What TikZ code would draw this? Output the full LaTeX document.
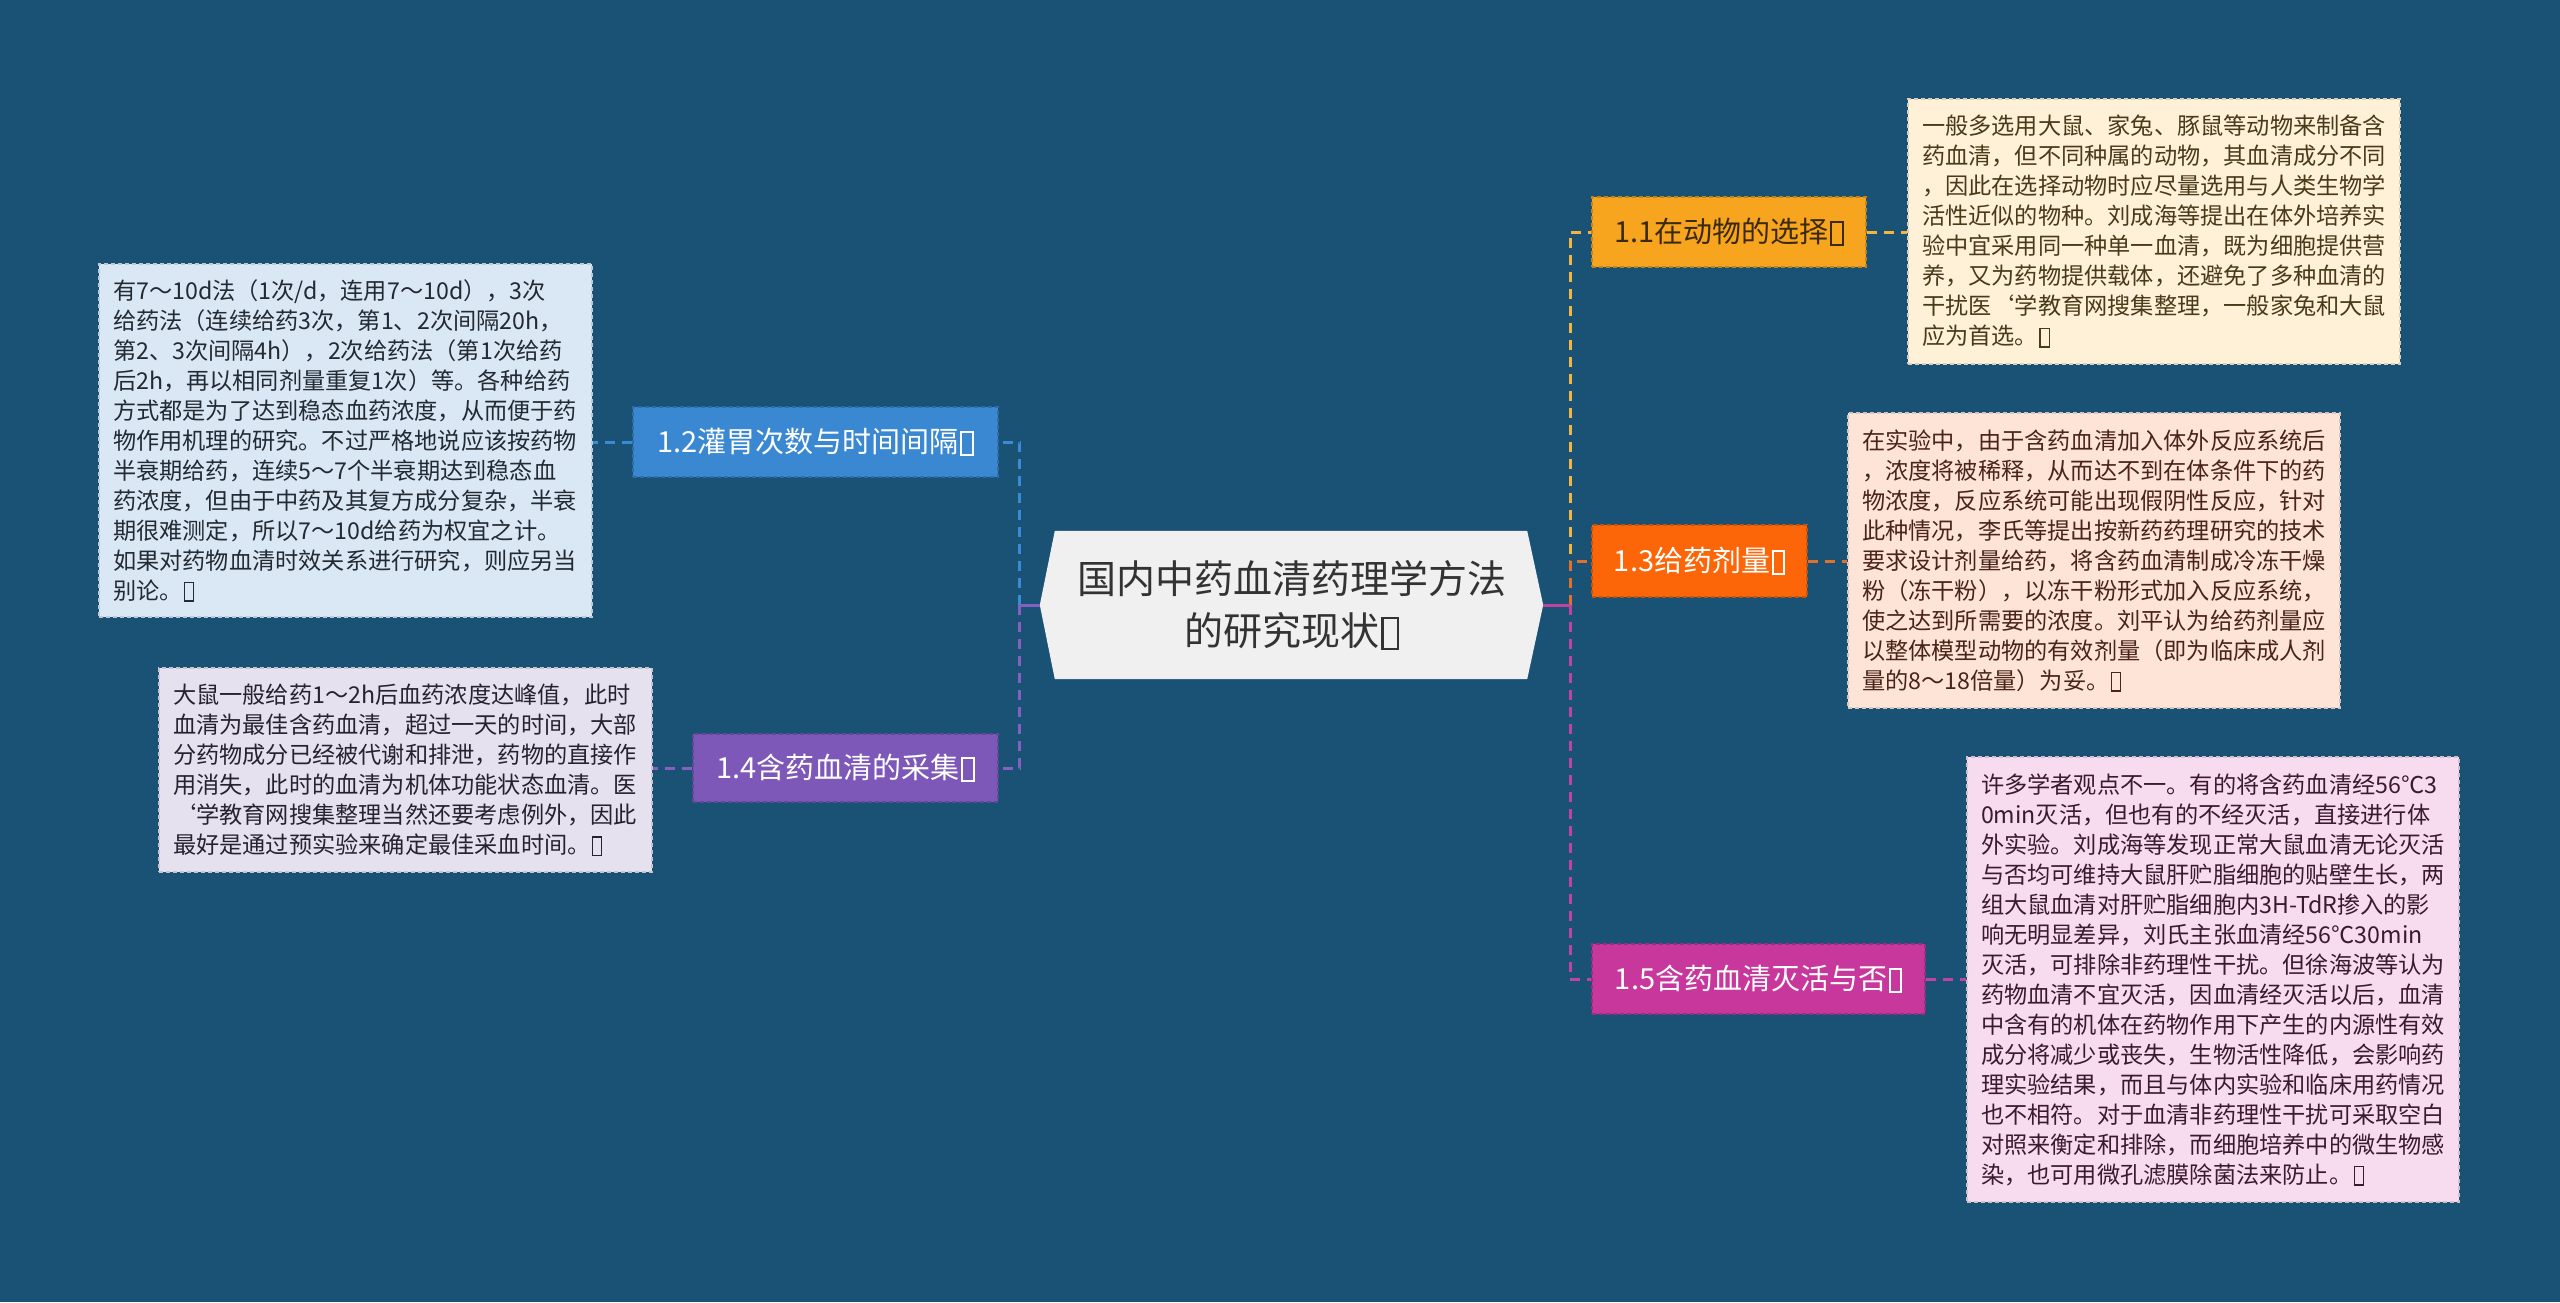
\documentclass[tikz,border=0pt]{standalone}
\usepackage{fontspec}
\setmainfont{Noto Sans CJK SC}
\usetikzlibrary{backgrounds}
\definecolor{bg}{HTML}{1A5276}
\definecolor{rootfill}{HTML}{F0F0F0}
\definecolor{roottext}{HTML}{333333}
\definecolor{f11}{HTML}{F7A41E}
\definecolor{f12}{HTML}{3A88D2}
\definecolor{f13}{HTML}{FC6608}
\definecolor{f14}{HTML}{7E58B8}
\definecolor{f15}{HTML}{C8379C}
\definecolor{e11}{HTML}{F2B640}
\definecolor{e12}{HTML}{3A8AD4}
\definecolor{e13}{HTML}{E2702A}
\definecolor{e14}{HTML}{8660BE}
\definecolor{e15}{HTML}{C043A0}
\definecolor{d11}{HTML}{FEF1D8}
\definecolor{d12}{HTML}{DAE8F5}
\definecolor{d13}{HTML}{FDE4D7}
\definecolor{d14}{HTML}{E6E1EF}
\definecolor{d15}{HTML}{F7DBEE}
\definecolor{t11}{HTML}{3B2A0A}
\definecolor{dt11}{HTML}{4A3A1A}
\definecolor{dt12}{HTML}{222A33}
\definecolor{dt13}{HTML}{4A2418}
\definecolor{dt14}{HTML}{26222E}
\definecolor{dt15}{HTML}{3A1A30}
\newcommand\tofu{\kern0.06em{\setlength{\fboxsep}{0pt}\setlength{\fboxrule}{0.055em}\raisebox{-0.06em}{\fbox{\rule{0pt}{0.74em}\kern0.34em}}}}
\tikzset{
  branch/.style={minimum height=70, inner sep=0, font=\fontsize{29}{34}\selectfont, draw=#1!80!black, dash pattern=on 4 off 3, line width=1.2, fill=#1},
  descbox/.style={align=left, inner xsep=14, inner ysep=0, font=\fontsize{23.2}{30}\selectfont, fill=#1, draw=#1!70!gray, dash pattern=on 4 off 3, line width=1.2},
  conn/.style={line width=3, dash pattern=on 10 off 7, #1},
  stub/.style={line width=3, #1}
}
\begin{document}
\begin{tikzpicture}[x=1pt,y=-1pt]
\useasboundingbox (0,0) rectangle (2560,1302);
% root
\node[minimum width=503, minimum height=148, inner sep=0, align=center, text=roottext, font=\fontsize{39}{52}\selectfont] (root) at (1291.5,605) {国内中药血清药理学方法\\的研究现状\tofu};
\begin{scope}[on background layer]
\fill[bg] (0,0) rectangle (2560,1302);
\fill[rootfill] ([xshift=15]root.north west) -- ([xshift=-16]root.north east) -- (root.east) -- ([xshift=-16]root.south east) -- ([xshift=15]root.south west) -- (root.west) -- cycle;
\end{scope}
% branches
\node[branch=f11, text=t11, minimum width=274] (n11) at (1729,232) {1.1在动物的选择\tofu};
\node[branch=f13, text=white, minimum width=215, minimum height=72] (n13) at (1699.5,561) {1.3给药剂量\tofu};
\node[branch=f15, text=white, minimum width=333] (n15) at (1758.5,979) {1.5含药血清灭活与否\tofu};
\node[branch=f12, text=white, minimum width=365] (n12) at (815.5,442) {1.2灌胃次数与时间间隔\tofu};
\node[branch=f14, text=white, minimum width=305, minimum height=68] (n14) at (845.5,768) {1.4含药血清的采集\tofu};
% descriptions
\node[descbox=d11, text=dt11, text width=464, minimum height=265] (dd11) at (2154,231.5) {一般多选用大鼠、家兔、豚鼠等动物来制备含\\药血清，但不同种属的动物，其血清成分不同\\，因此在选择动物时应尽量选用与人类生物学\\活性近似的物种。刘成海等提出在体外培养实\\验中宜采用同一种单一血清，既为细胞提供营\\养，又为药物提供载体，还避免了多种血清的\\干扰医`学教育网搜集整理，一般家兔和大鼠\\应为首选。\tofu};
\node[descbox=d13, text=dt13, text width=464, minimum height=295] (dd13) at (2094,560.5) {在实验中，由于含药血清加入体外反应系统后\\，浓度将被稀释，从而达不到在体条件下的药\\物浓度，反应系统可能出现假阴性反应，针对\\此种情况，李氏等提出按新药药理研究的技术\\要求设计剂量给药，将含药血清制成冷冻干燥\\粉（冻干粉），以冻干粉形式加入反应系统，\\使之达到所需要的浓度。刘平认为给药剂量应\\以整体模型动物的有效剂量（即为临床成人剂\\量的8～18倍量）为妥。\tofu};
\node[descbox=d15, text=dt15, text width=464, minimum height=445] (dd15) at (2213,979.5) {许多学者观点不一。有的将含药血清经56℃3\\0min灭活，但也有的不经灭活，直接进行体\\外实验。刘成海等发现正常大鼠血清无论灭活\\与否均可维持大鼠肝贮脂细胞的贴壁生长，两\\组大鼠血清对肝贮脂细胞内3H-TdR掺入的影\\响无明显差异，刘氏主张血清经56℃30min\\灭活，可排除非药理性干扰。但徐海波等认为\\药物血清不宜灭活，因血清经灭活以后，血清\\中含有的机体在药物作用下产生的内源性有效\\成分将减少或丧失，生物活性降低，会影响药\\理实验结果，而且与体内实验和临床用药情况\\也不相符。对于血清非药理性干扰可采取空白\\对照来衡定和排除，而细胞培养中的微生物感\\染，也可用微孔滤膜除菌法来防止。\tofu};
\node[descbox=d12, text=dt12, text width=465, minimum height=353] (dd12) at (345.5,440.5) {有7～10d法（1次/d，连用7～10d），3次\\给药法（连续给药3次，第1、2次间隔20h，\\第2、3次间隔4h），2次给药法（第1次给药\\后2h，再以相同剂量重复1次）等。各种给药\\方式都是为了达到稳态血药浓度，从而便于药\\物作用机理的研究。不过严格地说应该按药物\\半衰期给药，连续5～7个半衰期达到稳态血\\药浓度，但由于中药及其复方成分复杂，半衰\\期很难测定，所以7～10d给药为权宜之计。\\如果对药物血清时效关系进行研究，则应另当\\别论。\tofu};
\node[descbox=d14, text=dt14, text width=465, minimum height=204] (dd14) at (405.5,770) {大鼠一般给药1～2h后血药浓度达峰值，此时\\血清为最佳含药血清，超过一天的时间，大部\\分药物成分已经被代谢和排泄，药物的直接作\\用消失，此时的血清为机体功能状态血清。医\\`学教育网搜集整理当然还要考虑例外，因此\\最好是通过预实验来确定最佳采血时间。\tofu};
% junctions
\coordinate (rj) at ([xshift=27]root.east);
\coordinate (lj) at ([xshift=-20]root.west);
\begin{scope}[on background layer]
\draw[conn=e11] (rj) |- (n11.west);
\draw[conn=e13] (rj) |- (n13.west);
\draw[conn=e15] (rj) |- (n15.west);
\draw[stub=e15] (root.east) -- (rj);
\draw[conn=e12] (lj) |- (n12.east);
\draw[conn=e14] (lj) |- (n14.east);
\draw[stub=e14] (root.west) -- (lj);
\draw[conn=e11] (n11.east) -- (n11.east -| dd11.west);
\draw[conn=e13] (n13.east) -- (n13.east -| dd13.west);
\draw[conn=e15] (n15.east) -- (n15.east -| dd15.west);
\draw[conn=e12] (n12.west) -- (n12.west -| dd12.east);
\draw[conn=e14] (n14.west) -- (n14.west -| dd14.east);
\end{scope}
\end{tikzpicture}
\end{document}
